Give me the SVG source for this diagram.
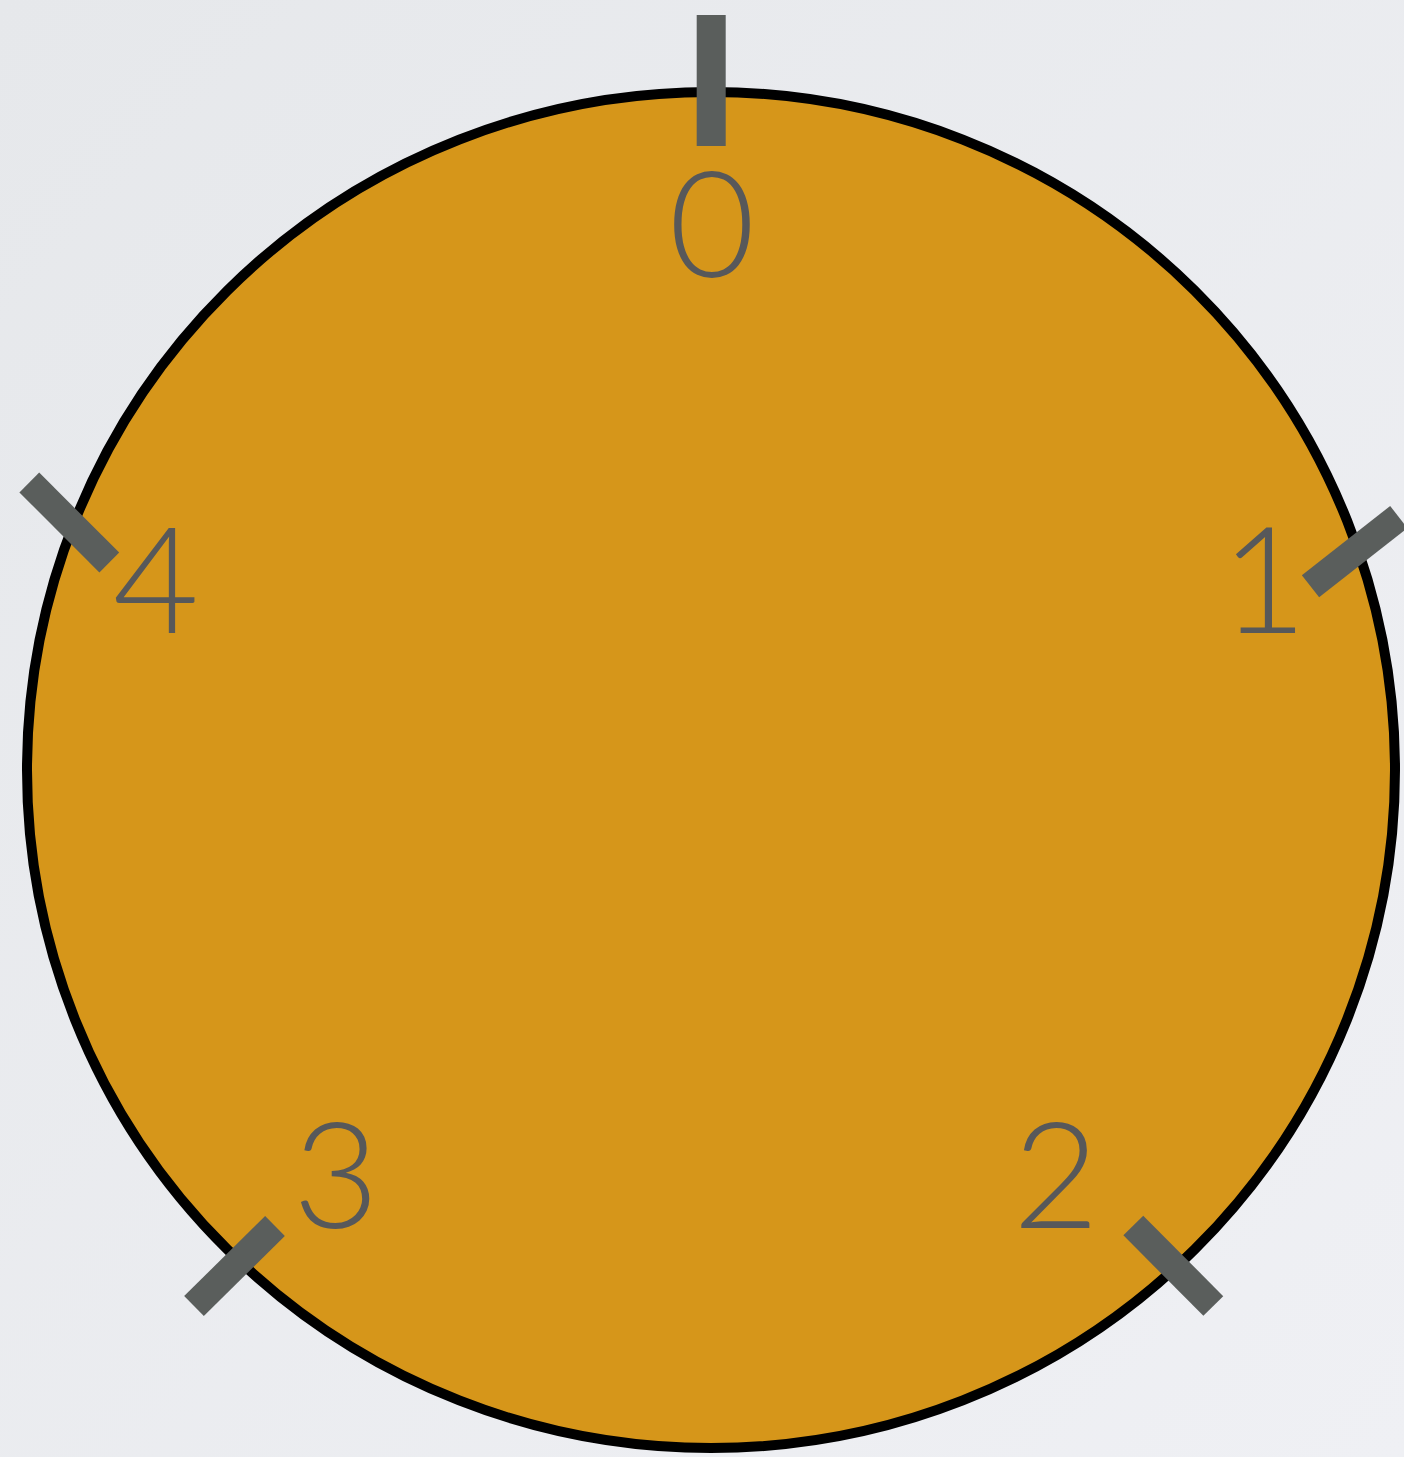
<svg xmlns="http://www.w3.org/2000/svg" width="1404" height="1457" viewBox="0 0 1404 1457">
  <style>
    .tick { stroke: #5A5E5C; stroke-width: 28; stroke-linecap: butt; fill: none; }
    .lbl { font-family: Lato, "Open Sans", "Liberation Sans", sans-serif; font-weight: 300; font-size: 149px; fill: #57585A; text-anchor: middle; }
  </style>
  <defs>
    <linearGradient id="bg" x1="0" y1="0" x2="1" y2="1">
      <stop offset="0" stop-color="#E6E8EB"/>
      <stop offset="1" stop-color="#EFF0F4"/>
    </linearGradient>
  </defs>
  <rect x="0" y="0" width="1404" height="1457" fill="url(#bg)"/>
  <g id="dial">
    <ellipse cx="711" cy="770" rx="684" ry="678" fill="#D6961A" stroke="#000000" stroke-width="10"/>
  </g>
  <g id="ticks">
    <line class="tick" x1="711.2" y1="15" x2="711.2" y2="146" style="stroke-width:29"/>
    <line class="tick" x1="1310.5" y1="586.2" x2="1398.8" y2="517"/>
    <line class="tick" x1="1133.3" y1="1225.5" x2="1213.3" y2="1306"/>
    <line class="tick" x1="275" y1="1226" x2="194" y2="1306"/>
    <line class="tick" x1="29.3" y1="482.5" x2="109.3" y2="562.5"/>
  </g>
  <g id="labels">
    <g id="label-0"><text class="lbl" x="712" y="277">0</text></g>
    <g id="label-1"><text class="lbl" x="1264" y="633">1</text></g>
    <g id="label-2"><text class="lbl" x="1056" y="1228">2</text></g>
    <g id="label-3"><text class="lbl" x="336" y="1228">3</text></g>
    <g id="label-4"><text class="lbl" x="156" y="633">4</text></g>
  </g>
</svg>
